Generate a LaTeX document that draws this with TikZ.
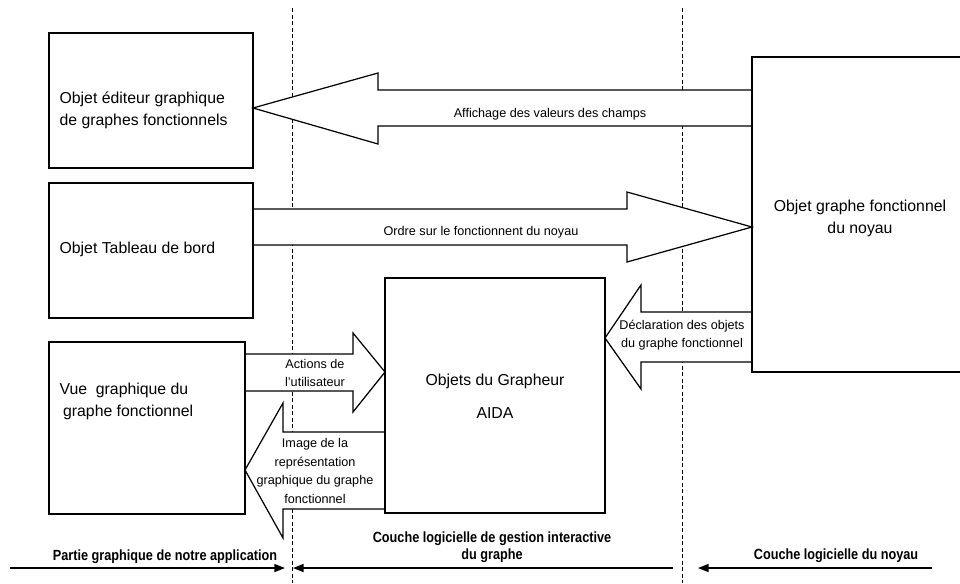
\documentclass[tikz,border=0pt]{standalone}
\usepackage{fontspec}
\setmainfont{Liberation Sans}
\newfontfamily\narrowsf[FakeStretch=0.86]{Liberation Sans}
\usetikzlibrary{arrows.meta}

\begin{document}
\begin{tikzpicture}[x=0.02cm, y=-0.02cm, line width=0.7pt,
    boxtext/.style={font=\fontsize{9}{12.5}\selectfont, inner sep=0pt},
    flowtext/.style={font=\fontsize{7.2}{10.5}\selectfont, align=center, inner sep=0pt},
    layertext/.style={font=\narrowsf\bfseries\fontsize{8.4}{9.6}\selectfont, align=center, inner sep=0pt},
    flow/.style={draw, fill=white, line join=miter},
    layer/.style={line width=0.8pt, -{Triangle[length=6pt,width=4.5pt]}}]
    \useasboundingbox (0,0) rectangle (960,583);

    % limites des couches
    \foreach \x in {292,682}
    {
        \draw[line width=0.5pt, dash pattern=on 2.5pt off 1.2pt] (\x,8) -- (\x,583);
    }

    % fleches entre objets
    \draw[flow] (752,90) -- (378,90) -- (378,73) -- (253,108) -- (378,144) -- (378,126) -- (752,126);
    \draw[flow] (253,209) -- (627,209) -- (627,192) -- (752,227) -- (627,262) -- (627,245) -- (253,245);
    \draw[flow] (752,312) -- (641,312) -- (641,285) -- (605,338) -- (641,389) -- (641,362) -- (752,362);
    \draw[flow] (245,354) -- (353,354) -- (353,333) -- (385,372) -- (353,412) -- (353,391) -- (245,391);
    \draw[flow] (385,432) -- (283,432) -- (283,403) -- (245,470) -- (283,538) -- (283,509) -- (385,509);

    % objets
    \draw (49,33) rectangle (253,168);
    \draw (49,183) rectangle (253,318);
    \draw (49,342) rectangle (245,514);
    \draw (385,278) rectangle (605,513);
    \draw (960,57) -| (752,372) -- (960,372);

    \node[boxtext, anchor=west, align=left] (editeur) at (59,110) {Objet éditeur graphique\\de graphes fonctionnels};
    \node[boxtext, anchor=base west] (tableau) at (59,253) {Objet Tableau de bord};
    \node[boxtext, anchor=west, align=left] (vue) at (59,401) {Vue~ graphique du\\\hspace*{2pt}graphe fonctionnel};
    \node[boxtext, anchor=base] (grapheur) at (495,385) {Objets du Grapheur};
    \node[boxtext, anchor=base] (aida) at (495,418) {AIDA};
    \node[boxtext, align=center] (noyau) at (860,218) {Objet graphe fonctionnel\\du noyau};

    \node[flowtext, anchor=base] (affichage) at (550,117) {Affichage des valeurs des champs};
    \node[flowtext, anchor=base] (ordre) at (481,235) {Ordre sur le fonctionnent du noyau};
    \node[flowtext] (declaration) at (682,335) {Déclaration des objets\\du graphe fonctionnel};
    \node[flowtext] (actions) at (315,373) {Actions de\\l'utilisateur};
    \node[flowtext] (image) at (315,471) {Image de la\\représentation\\graphique du graphe\\fonctionnel};

    % couches
    \coordinate (appG) at (10,568);
    \coordinate (appD) at (285,568);
    \coordinate (gesG) at (293,568);
    \coordinate (gesD) at (673,568);
    \coordinate (noyG) at (698,568);
    \coordinate (noyD) at (932,568);
    \draw[layer] (appG) -- (appD);
    \draw[layer, {Triangle[length=6pt,width=4.5pt]}-] (gesG) -- (gesD);
    \draw[layer] (noyD) -- (noyG);

    \node[layertext, anchor=base] (partie) at (165,560) {Partie graphique de notre application};
    \node[layertext] (gestion) at (492,547) {Couche logicielle de gestion interactive\\du graphe};
    \node[layertext, anchor=base] (couche) at (836,559) {Couche logicielle du noyau};
\end{tikzpicture}
\end{document}
